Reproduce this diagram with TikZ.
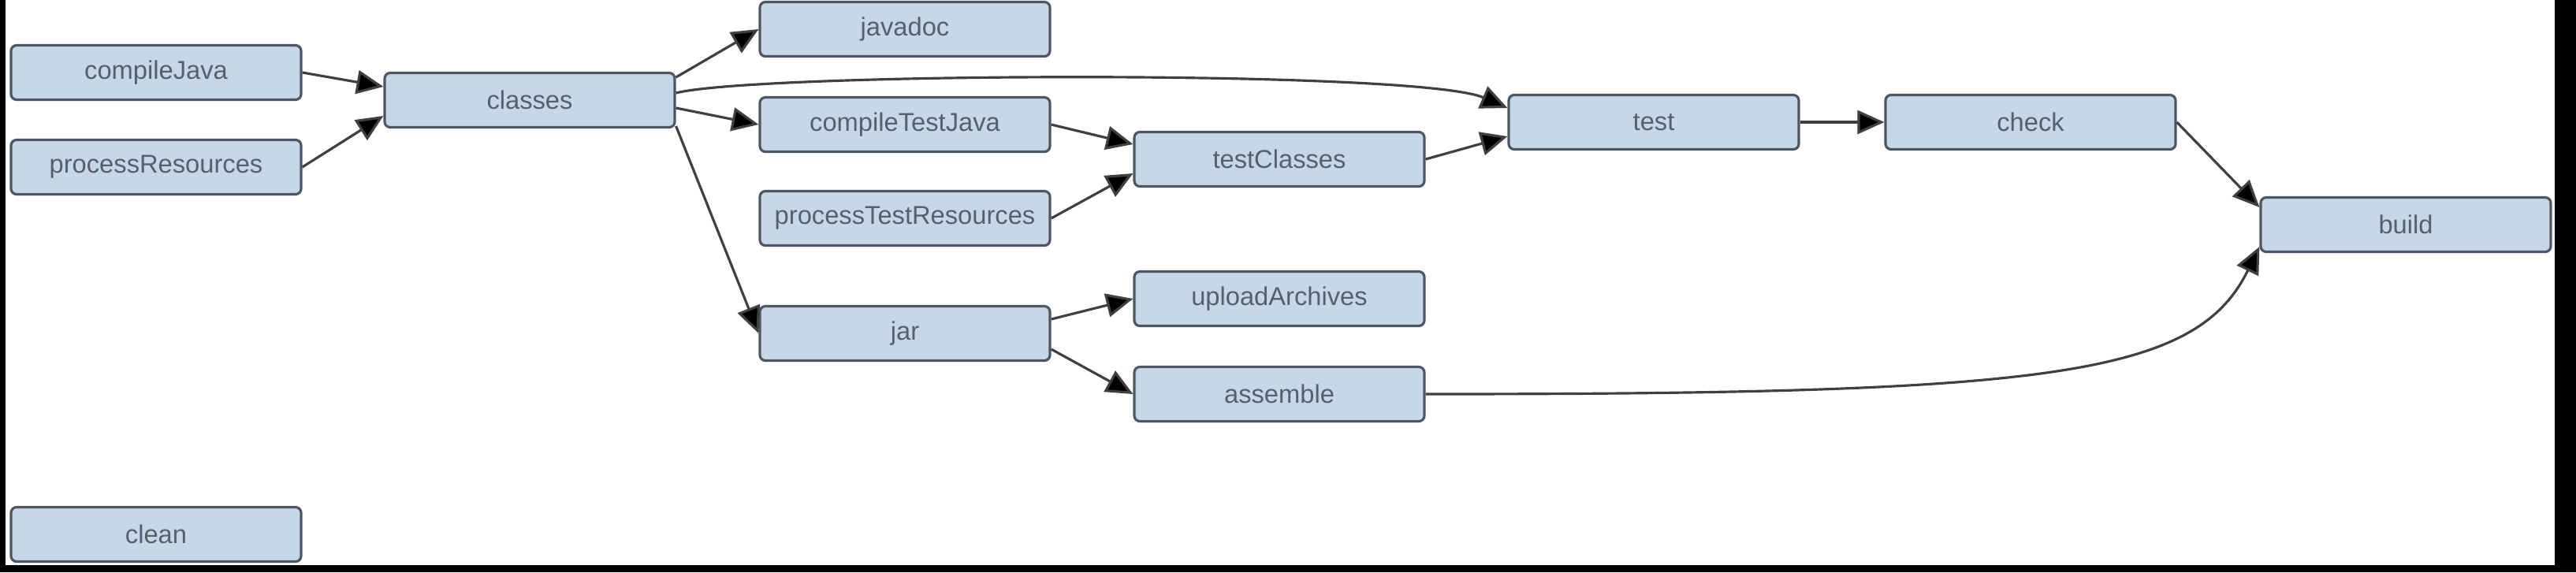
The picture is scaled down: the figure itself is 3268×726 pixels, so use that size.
\documentclass[tikz,border=0pt]{standalone}
\usepackage{fontspec}
\setmainfont{Liberation Sans}
\usetikzlibrary{arrows.meta,calc}
\definecolor{boxfill}{HTML}{C6D8E7}
\definecolor{boxline}{HTML}{4D5763}
\definecolor{boxtext}{HTML}{56606B}
\definecolor{edgecol}{HTML}{404040}
\tikzset{
  task/.style={draw=boxline, line width=0.9pt, fill=boxfill, rounded corners=2pt,
    minimum width=36.8mm, minimum height=6.9mm, inner sep=0pt,
    text=boxtext, font=\fontsize{9.3pt}{11pt}\selectfont},
  dep/.style={draw=edgecol, line width=0.9pt,
    -{Triangle[length=3.4mm,width=3mm,fill=black]}},
}
\begin{document}
\begin{tikzpicture}[x=0.1mm,y=-0.1mm]
  \useasboundingbox (0,0) rectangle (3268,726);
  \fill[white] (0,0) rectangle (3268,726);
  \fill[black] (0,0) rectangle (7,726);
  \fill[black] (3241,0) rectangle (3268,726);
  \fill[black] (0,717) rectangle (3268,726);

  \node[task] (compileJava) at (198,92) {compileJava};
  \node[task] (processResources) at (198,212) {processResources};
  \node[task] (clean) at (198,678) {clean};
  \node[task] (classes) at (672,127) {classes};
  \node[task] (javadoc) at (1148,37) {javadoc};
  \node[task] (compileTestJava) at (1148,158) {compileTestJava};
  \node[task] (processTestResources) at (1148,277) {processTestResources};
  \node[task] (jar) at (1148,423) {jar};
  \node[task] (testClasses) at (1623,202) {testClasses};
  \node[task] (uploadArchives) at (1623,379) {uploadArchives};
  \node[task] (assemble) at (1623,500) {assemble};
  \node[task] (test) at (2098,155) {test};
  \node[task] (check) at (2576,155) {check};
  \node[task] (build) at (3052,285) {build};

  \draw[dep] (compileJava.east) -- ([yshift=1.7mm]classes.west);
  \draw[dep] (processResources.east) -- ([yshift=-2mm]classes.west);
  \draw[dep] ([yshift=2.9mm]classes.east) -- (javadoc.west);
  \draw[dep] ([yshift=-1mm]classes.east) -- (compileTestJava.west);
  \draw[dep] ([yshift=-3.3mm]classes.east) -- (jar.west);
  \draw[dep] ([yshift=0.9mm]classes.east) .. controls +(101,-26) and +(-113,-49) .. ([yshift=1.8mm]test.west);
  \draw[dep] (compileTestJava.east) -- ([yshift=1.9mm]testClasses.west);
  \draw[dep] (processTestResources.east) -- ([yshift=-1.8mm]testClasses.west);
  \draw[dep] (testClasses.east) -- ([yshift=-1.8mm]test.west);
  \draw[dep] (test.east) -- (check.west);
  \draw[dep] (check.east) -- ([yshift=2.2mm]build.west);
  \draw[dep] (assemble.east) .. controls +(791,0) and +(-81,165) .. ([yshift=-2.8mm]build.west);
  \draw[dep] ([yshift=1.8mm]jar.east) -- (uploadArchives.west);
  \draw[dep] ([yshift=-2mm]jar.east) -- (assemble.west);
\end{tikzpicture}
\end{document}
